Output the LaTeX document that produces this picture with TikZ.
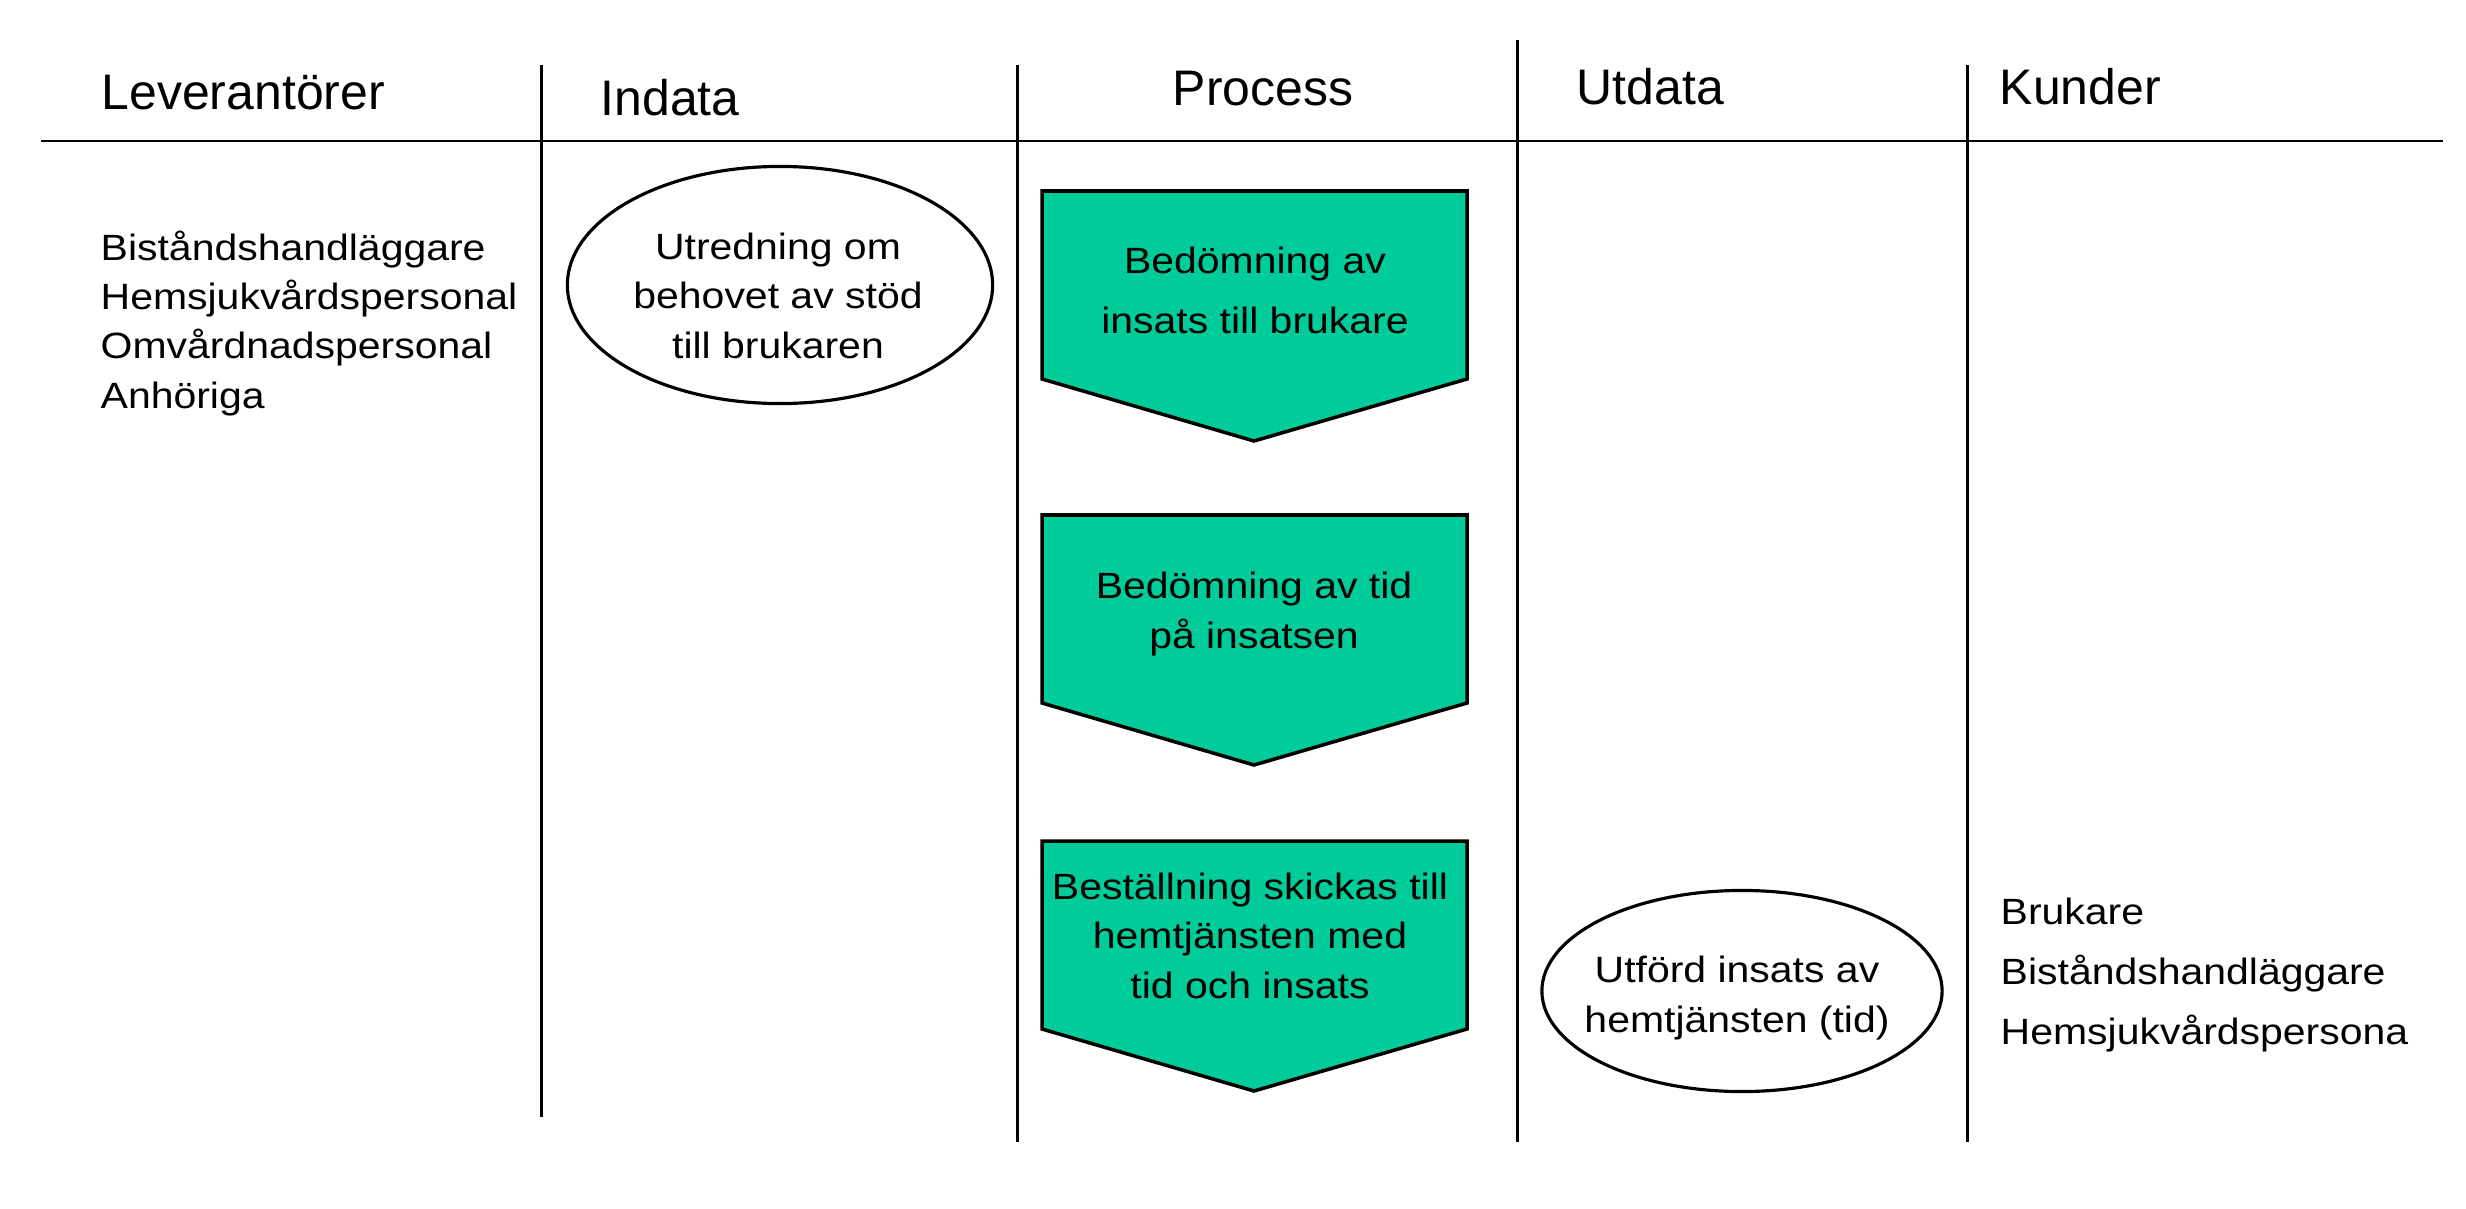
\documentclass[tikz,border=0pt]{standalone}
\usepackage{fontspec}
\usepackage{tikz}
\usetikzlibrary{shapes, calc, positioning}
\setmainfont{Liberation Sans}
\newfontfamily\bodyfont{Liberation Sans}[FakeStretch=1.12]
\definecolor{procgreen}{HTML}{00CC99}

\begin{document}
\begin{tikzpicture}[x=0.01cm, y=-0.01cm]
    \tikzstyle{rule} = [black, line width=0.85pt]
    \tikzstyle{head} = [inner sep=0pt, font=\fontsize{14.2}{17}\selectfont]
    \tikzstyle{body} = [inner sep=0pt, font={\bodyfont\fontsize{10.4}{14}\selectfont}]
    \tikzstyle{bodywide} = [inner sep=0pt, font={\bodyfont\fontsize{10.4}{17}\selectfont}]
    \tikzstyle{oval} = [draw, ellipse, line width=0.9pt, inner sep=0pt]
    \tikzstyle{proc} = [draw, fill=procgreen, line width=1pt, line join=miter]

    \useasboundingbox (0,0) rectangle (2466,1209);

    % table lines
    \draw[rule] (41,141) -- (2443,141);
    \draw[rule] (541,65) -- (541,1117);
    \draw[rule] (1017,65) -- (1017,1142);
    \draw[rule] (1517,40) -- (1517,1142);
    \draw[rule] (1967,65) -- (1967,1142);

    % process arrows
    \foreach \t in {191,515,841}
        \draw[proc] (1042,\t) -- ++(425,0) -- ++(0,188) -- ++(-213,62)
            -- ++(-212,-62) -- cycle;

    % base of a multi-line node = baseline of its last line
    \path
        node[head, anchor=base west] (lev) at (101,109) {Leverantörer}
        node[head, anchor=base west] (ind) at (600,115) {Indata}
        node[head, anchor=base] (pro) at (1263,105) {Process}
        node[head, anchor=base west] (utd) at (1576,104) {Utdata}
        node[head, anchor=base west] (kun) at (1999,104) {Kunder}

        node[body, anchor=base west, align=left] (levlist) at (100,408)
            {Biståndshandläggare\\Hemsjukvårdspersonal\\Omvårdnadspersonal\\Anhöriga}

        node[oval, minimum width=4.25cm, minimum height=2.37cm] (utr) at (780,285) {}
        node[body, anchor=base, align=center] (utrtext) at (778,358)
            {Utredning om\\behovet av stöd\\till brukaren}

        node[bodywide, anchor=base, align=center] (bed1) at (1255,333)
            {Bedömning av\\insats till brukare}
        node[body, anchor=base, align=center] (bed2) at (1254,648)
            {Bedömning av tid\\på insatsen}
        node[body, anchor=base, align=center] (best) at (1250,998)
            {Beställning skickas till\\hemtjänsten med\\tid och insats}

        node[oval, minimum width=4.0cm, minimum height=2.01cm] (utf) at (1742,991) {}
        node[body, anchor=base, align=center] (utftext) at (1737,1032)
            {Utförd insats av\\hemtjänsten (tid)}

        node[bodywide, anchor=base west, align=left] (kunlist) at (2000,1044)
            {Brukare\\Biståndshandläggare\\Hemsjukvårdspersona}
    ;

\end{tikzpicture}
\end{document}
